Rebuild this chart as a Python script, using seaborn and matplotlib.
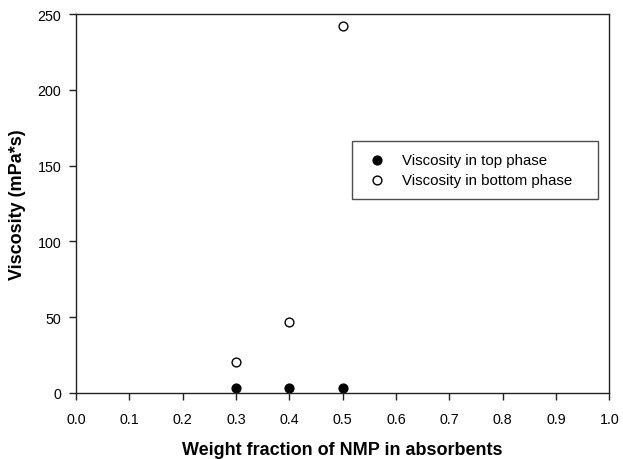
import matplotlib
matplotlib.use("Agg")
import matplotlib.pyplot as plt
import seaborn as sns
import pandas as pd

# Weight fraction of NMP and measured viscosities
nmp_fraction = [0.3, 0.4, 0.5]
visc_top = [3.6, 3.6, 3.4]
visc_bottom = [20.6, 46.6, 242.4]

x_ticks = [0.0, 0.1, 0.2, 0.3, 0.4, 0.5, 0.6, 0.7, 0.8, 0.9, 1.0]
y_ticks = [0, 50, 100, 150, 200, 250]

sns.set_theme(style="white")
plt.rcParams["font.family"] = ["Liberation Sans", "DejaVu Sans"]
plt.rcParams["text.color"] = "black"
plt.rcParams["axes.labelcolor"] = "black"

top_df = pd.DataFrame({"x": nmp_fraction, "y": visc_top})
bot_df = pd.DataFrame({"x": nmp_fraction, "y": visc_bottom})

fig = plt.figure(figsize=(6.23, 4.60), dpi=100)
ax = fig.add_axes([0.122, 0.1435, 0.856, 0.8235])

sns.scatterplot(data=top_df, x="x", y="y", ax=ax, s=40, color="black",
                edgecolor="black", linewidth=1.0, label="Viscosity in top phase")
sns.scatterplot(data=bot_df, x="x", y="y", ax=ax, s=40, facecolor="white",
                edgecolor="black", linewidth=1.0, label="Viscosity in bottom phase")

ax.set_xlim(0, 1.0)
ax.set_ylim(0, 250)
ax.set_xticks(x_ticks)
ax.set_xticklabels([f"{v:.1f}" for v in x_ticks])
ax.set_yticks(y_ticks)

for side in ["left", "bottom", "top", "right"]:
    ax.spines[side].set_visible(True)
    ax.spines[side].set_color("#222222")
    ax.spines[side].set_linewidth(1.0)

ax.tick_params(axis="both", which="major", direction="out", length=5, width=1,
               color="#222222", labelsize=10.3, labelcolor="black",
               bottom=True, left=True, top=False, right=False)
ax.tick_params(axis="x", pad=8.5)
ax.tick_params(axis="y", pad=5.5)

ax.set_xlabel("Weight fraction of NMP in absorbents", fontsize=13, fontweight="bold")
ax.set_ylabel("Viscosity (mPa*s)", fontsize=13, fontweight="bold")
ax.xaxis.set_label_coords(0.5, -0.127)
ax.yaxis.set_label_coords(-0.094, 0.5)

leg = ax.legend(loc="upper left", bbox_to_anchor=(0.518, 0.5, 0.461, 0.164),
                mode="expand", frameon=True, fancybox=False, edgecolor="#222222",
                fontsize=10.8, borderpad=0.77, handletextpad=0.77, borderaxespad=0,
                labelspacing=0.4, handlelength=1.8)
leg.get_frame().set_linewidth(1.0)

fig.savefig("out.png", dpi=100)
